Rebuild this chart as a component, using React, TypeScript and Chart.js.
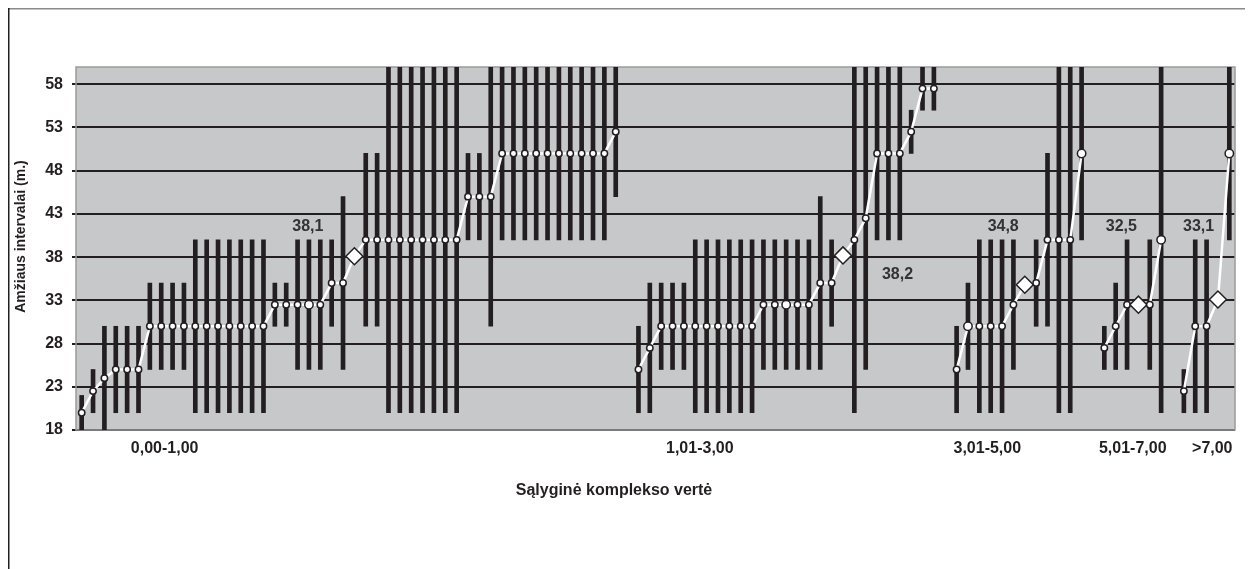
import { useEffect, useRef } from 'react';
import { Chart, registerables } from 'chart.js';

Chart.register(...registerables);

// 102 category slots (empty slots separate the groups, diamond slots hold group means)
const slots: string[] = Array.from({ length: 102 }, (_, i) => String(i));

const lows: (number | null)[] = [
  18, 20, 18, 20, 20, 20, 25, 25, 25, 25,
  20, 20, 20, 20, 20, 20, 20, 30, 30, 25,
  25, 25, 30, 25, null, 30, 30, 20, 20, 20,
  20, 20, 20, 20, 40, 40, 30, 40, 40, 40,
  40, 40, 40, 40, 40, 40, 40, 45, null, 20,
  20, 25, 25, 25, 20, 20, 20, 20, 20, 20,
  25, 25, 25, 25, 25, 25, 30, null, 20, 25,
  40, 40, 40, 50, 55, 55, null, 20, 25, 20,
  20, 20, 25, null, 30, 30, 20, 20, 40, null,
  25, 25, 25, null, 25, 20, null, 20, 20, 20,
  null, 40,
];

const highs: (number | null)[] = [
  22, 25, 30, 30, 30, 30, 35, 35, 35, 35,
  40, 40, 40, 40, 40, 40, 40, 35, 35, 40,
  40, 40, 40, 45, null, 50, 50, 60, 60, 60,
  60, 60, 60, 60, 50, 50, 60, 60, 60, 60,
  60, 60, 60, 60, 60, 60, 60, 60, null, 30,
  35, 35, 35, 35, 40, 40, 40, 40, 40, 40,
  40, 40, 40, 40, 40, 45, 40, null, 60, 60,
  60, 60, 60, 55, 60, 60, null, 30, 35, 40,
  40, 40, 40, null, 40, 50, 60, 60, 60, null,
  30, 35, 40, null, 40, 60, null, 25, 40, 40,
  null, 60,
];

const medians: (number | null)[] = [
  20, 22.5, 24, 25, 25, 25, 30, 30, 30, 30,
  30, 30, 30, 30, 30, 30, 30, 32.5, 32.5, 32.5,
  32.5, 32.5, 35, 35, null, 40, 40, 40, 40, 40,
  40, 40, 40, 40, 45, 45, 45, 50, 50, 50,
  50, 50, 50, 50, 50, 50, 50, 52.5, null, 25,
  27.5, 30, 30, 30, 30, 30, 30, 30, 30, 30,
  32.5, 32.5, 32.5, 32.5, 32.5, 35, 35, null, 40, 42.5,
  50, 50, 50, 52.5, 57.5, 57.5, null, 25, 30, 30,
  30, 30, 32.5, null, 35, 40, 40, 40, 50, null,
  27.5, 30, 32.5, null, 32.5, 40, null, 22.5, 30, 30,
  null, 50,
];

const meanSlots: number[] = [24, 67, 83, 93, 100];
const meanValues: number[] = [38.1, 38.2, 34.8, 32.5, 33.1];
const meanLabelSlot: number[] = [19.9, 71.8, 81.1, 91.5, 98.3];
const meanLabelValue: number[] = [41.5, 36.0, 41.5, 41.5, 41.5];

const bigPointSlots: number[] = [20, 62, 78, 88, 95, 101];

const groupNames: string[] = ['0,00-1,00', '1,01-3,00', '3,01-5,00', '5,01-7,00', '>7,00'];
const groupLabelSlot: number[] = [7.3, 54.4, 79.7, 92.5, 99.5];

const yTicks: number[] = [18, 23, 28, 33, 38, 43, 48, 53, 58];

const yTitle = 'Amžiaus intervalai (m.)';
const xTitle = 'Sąlyginė komplekso vertė';

const FONT = '"Liberation Sans", Arial, sans-serif';
const INK = '#231f20';

export default function App() {
  const ref = useRef<HTMLCanvasElement | null>(null);

  useEffect(() => {
    if (!ref.current) return;

    const trend: (number | null)[] = medians.map((m, i) => {
      const k = meanSlots.indexOf(i);
      return k >= 0 ? meanValues[k] : m;
    });
    const ranges = lows.map((lo, i) =>
      lo === null || highs[i] === null ? null : [lo, highs[i] as number]
    );

    const decor = {
      id: 'decor',
      beforeDraw(chart: any) {
        const { ctx, chartArea: a, width, height } = chart;
        ctx.save();
        ctx.fillStyle = '#c7c8ca';
        ctx.fillRect(a.left, a.top, a.right - a.left, a.bottom - a.top);
        ctx.lineWidth = 1.5;
        ctx.strokeStyle = '#8a8a8a';
        ctx.beginPath();
        ctx.moveTo(0, 0.75);
        ctx.lineTo(width, 0.75);
        ctx.stroke();
        ctx.strokeStyle = INK;
        ctx.beginPath();
        ctx.moveTo(0.75, 0);
        ctx.lineTo(0.75, height);
        ctx.stroke();
        ctx.restore();
      },
      beforeDatasetsDraw(chart: any) {
        const { ctx, chartArea: a } = chart;
        ctx.save();
        ctx.strokeStyle = '#9b9b9b';
        ctx.lineWidth = 1.5;
        ctx.strokeRect(a.left, a.top, a.right - a.left, a.bottom - a.top);
        ctx.restore();
      },
      afterDraw(chart: any) {
        const { ctx, chartArea: a, scales } = chart;
        const xs = scales.x;
        const ys = scales.y;
        ctx.save();
        ctx.fillStyle = INK;
        ctx.textAlign = 'center';
        ctx.textBaseline = 'middle';
        // group labels
        ctx.font = `bold 16px ${FONT}`;
        groupNames.forEach((g, i) => {
          ctx.fillText(g, xs.getPixelForValue(groupLabelSlot[i]), a.bottom + 19);
        });
        // mean labels
        ctx.fillStyle = '#333333';
        meanValues.forEach((v, i) => {
          ctx.fillText(
            v.toFixed(1).replace('.', ','),
            xs.getPixelForValue(meanLabelSlot[i]),
            ys.getPixelForValue(meanLabelValue[i])
          );
        });
        // x title
        ctx.fillStyle = INK;
        ctx.fillText(xTitle, 606, a.bottom + 61);
        // y title
        ctx.font = `bold 14px ${FONT}`;
        ctx.translate(13, (a.top + a.bottom) / 2 - 12);
        ctx.rotate(-Math.PI / 2);
        ctx.fillText(yTitle, 0, 0);
        ctx.restore();
      },
    };

    const chart = new Chart(ref.current, {
      type: 'bar',
      data: {
        labels: slots,
        datasets: [
          {
            type: 'line',
            data: trend,
            order: 0,
            borderColor: '#ffffff',
            borderWidth: 2.5,
            tension: 0,
            spanGaps: false,
            pointStyle: (c: any) => (meanSlots.includes(c.dataIndex) ? 'rectRot' : 'circle'),
            pointRadius: (c: any) =>
              meanSlots.includes(c.dataIndex) ? 8.5 : bigPointSlots.includes(c.dataIndex) ? 4.2 : 3.2,
            pointBackgroundColor: '#ffffff',
            pointBorderColor: INK,
            pointBorderWidth: 1.5,
          } as any,
          {
            type: 'bar',
            data: ranges as any,
            order: 1,
            backgroundColor: INK,
            borderWidth: 0,
            barThickness: 4,
          },
        ],
      },
      options: {
        responsive: false,
        animation: false,
        layout: { padding: { left: 0, top: 59, right: 18, bottom: 0 } },
        plugins: { legend: { display: false }, tooltip: { enabled: false } },
        scales: {
          x: {
            type: 'category',
            offset: true,
            grid: { display: false },
            border: { display: false },
            ticks: { display: false },
            afterFit: (s: any) => {
              s.height = 139;
            },
          },
          y: {
            type: 'linear',
            min: 18,
            max: 60,
            afterBuildTicks: (s: any) => {
              s.ticks = yTicks.map((v) => ({ value: v }));
            },
            afterFit: (s: any) => {
              s.width = 68;
            },
            border: { display: false },
            grid: { color: INK, lineWidth: 2, tickLength: 4, drawTicks: true },
            ticks: {
              color: INK,
              padding: 9,
              font: { family: FONT, size: 16, weight: 'bold' },
              callback: (v: any) => String(v),
            },
          },
        },
      },
      plugins: [decor],
    });

    return () => chart.destroy();
  }, []);

  return <canvas ref={ref} width={1245} height={561} style={{ display: 'block' }} />;
}
